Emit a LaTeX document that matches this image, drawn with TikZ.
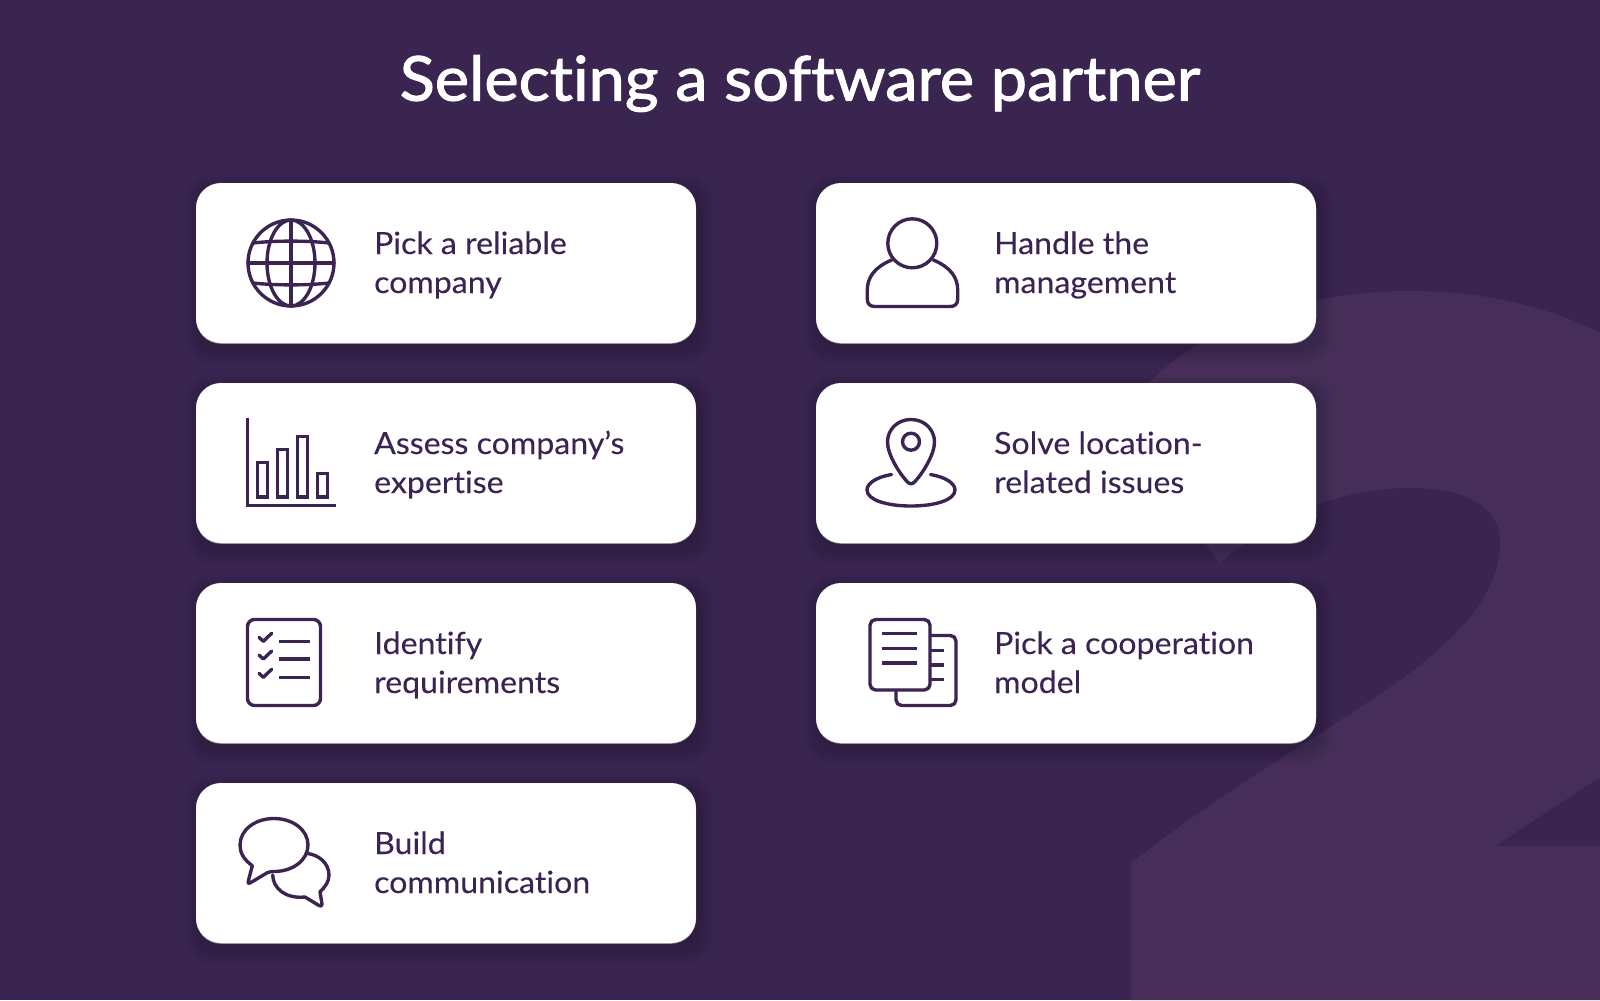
\documentclass[tikz,border=0pt]{standalone}
\usepackage{fontspec}
\setmainfont{Lato}[Ligatures={NoCommon},FakeStretch=1.05,FakeBold=0.1]
\newfontfamily\titlefont{Lato}[Ligatures={NoCommon},FakeStretch=1.05,FakeBold=1.6]
\definecolor{bgp}{HTML}{3A2450}
\definecolor{bgl}{HTML}{462E58}
\definecolor{ink}{HTML}{3B2352}
\newcommand{\toprule}{\rule{0pt}{1em}}
\newcommand{\botrule}{\rule[-.3em]{0pt}{.3em}}
\tikzset{
  cardbox/.style={rectangle,rounded corners=35.5pt,minimum width=25cm,minimum height=8cm,fill=white,draw=none,inner sep=0pt},
  cardlabel/.style={anchor=west,align=left,inner sep=0pt,text=ink,font=\fontsize{43.5}{55.5}\selectfont},
  icon/.style={draw=ink,line width=4.8pt,line cap=round,line join=round,fill=none},
  titletext/.style={text=white,inner sep=0pt,font=\titlefont\fontsize{88}{100}\selectfont}
}
\newcommand{\makecard}[5]{% name, x, y (top left), line1, line2
  \foreach \s in {14,12,10,8,6,4,2}{
    \fill[black,fill opacity=.018,rounded corners=35.5pt] (#2-\s+3,#3+6-\s) rectangle (#2+500+\s+3,#3+166+\s);
  }
  \fill[black!45,rounded corners=35.5pt] (#2,#3+.8) rectangle (#2+500,#3+160.8);
  \node[cardbox] (#1) at (#2+250,#3+80) {};
  \node[cardlabel] (#1t) at (#2+178,#3+79.8) {\toprule #4\\#5\botrule};
}
\begin{document}
\begin{tikzpicture}[x=0.05cm,y=-0.05cm]
\useasboundingbox (0,0) rectangle (1600,1000);
\fill[bgp] (0,0) rectangle (1600,1000);
% big faint numeral
\fill[bgl] (1131,1000) -- (1131,863)
  .. controls (1230,785) and (1340,725) .. (1414,670)
  .. controls (1465,630) and (1500,590) .. (1500,543)
  .. controls (1500,505) and (1465,488) .. (1410,488)
  .. controls (1335,488) and (1270,520) .. (1220,563)
  -- (1115,425)
  .. controls (1170,335) and (1290,291) .. (1410,291)
  .. controls (1480,291) and (1545,305) .. (1600,333)
  -- (1600,777) -- (1495,846) -- (1600,846) -- (1600,1000) -- cycle;
\node[titletext] (title) at (800,83.5) {Selecting a software partner};
\makecard{c1}{196}{183}{Pick a reliable}{company}
\makecard{c2}{196}{383}{Assess company’s}{expertise}
\makecard{c3}{196}{583}{Identify}{requirements}
\makecard{c4}{196}{783}{Build}{communication}
\makecard{c5}{816}{183}{Handle the}{management}
\makecard{c6}{816}{383}{Solve location-}{related issues}
\makecard{c7}{816}{583}{Pick a cooperation}{model}
% globe
\draw[icon] (291,263) circle [radius=43];
\draw[icon] (291,263) circle [x radius=24,y radius=43];
\draw[icon] (291,220) -- (291,306);
\draw[icon] (248,263) -- (334,263);
\draw[icon] (253,243) .. controls (275,240.5) and (307,240.5) .. (329,243);
\draw[icon] (253,283) .. controls (275,285.5) and (307,285.5) .. (329,283);
% chart
\draw[icon,line cap=butt,line join=miter] (247.5,418) -- (247.5,505.2) -- (335.7,505.2);
\draw[icon,line cap=butt,line join=miter] (257.5,462.5) rectangle (267.5,497);
\draw[icon,line cap=butt,line join=miter] (277.3,449.5) rectangle (287.3,497);
\draw[icon,line cap=butt,line join=miter] (297.5,436.8) rectangle (307.5,497);
\draw[icon,line cap=butt,line join=miter] (317.7,473.5) rectangle (327.5,497);
% checklist
\draw[icon,rounded corners=10pt] (247.5,619.5) rectangle (320.5,705.5);
\foreach \d in {0,17.7,36}{
  \draw[icon] (259,637.3+\d) -- (263.3,641.3+\d) -- (271.7,633.3+\d);
  \draw[icon,line cap=butt] (279,641.3+\d) -- (310,641.3+\d);
}
% chat
\draw[icon] (252.3,865.7) .. controls (243,859) and (240,852) .. (240,845)
  .. controls (240,830) and (255,818.5) .. (274,818.5)
  .. controls (293,818.5) and (308,830) .. (308,845)
  .. controls (308,860) and (293,871.5) .. (274,871.5)
  .. controls (272,871.5) and (270,871.5) .. (267.3,872.7)
  -- (250,883) .. controls (248,884) and (248,883) .. (248.3,881) -- cycle;
\draw[icon] (306.7,853.3) .. controls (320,855) and (329,864) .. (329,875)
  .. controls (329,882) and (325,887) .. (320,891.7)
  -- (322,904) .. controls (322,906.5) and (321,906.5) .. (319,905.5)
  -- (305,897) .. controls (285,899) and (273,888) .. (272.7,875);
% person
\draw[icon] (912.3,243.3) circle [radius=24.5];
\draw[icon] (891.7,260) .. controls (875,267) and (867.3,277) .. (867.3,290)
  -- (867.3,299) .. controls (867.3,304) and (870,306.5) .. (875,306.5)
  -- (950,306.5) .. controls (955,306.5) and (957.7,304) .. (957.7,299)
  -- (957.7,290) .. controls (957.7,277) and (950,267) .. (933.3,260);
% pin
\draw[icon] (911,419.5) .. controls (925,419.5) and (934.5,430) .. (934.5,442)
  .. controls (934.5,455) and (922,474) .. (915,481.5)
  .. controls (912.5,484.5) and (909.5,484.5) .. (907,481.5)
  .. controls (900,474) and (887.5,455) .. (887.5,442)
  .. controls (887.5,430) and (897,419.5) .. (911,419.5) -- cycle;
\draw[icon] (911,441.7) circle [radius=8.5];
\draw[icon] (891.5,474.5) .. controls (877,477) and (867,483) .. (867,490)
  .. controls (867,500) and (887,506) .. (911,506)
  .. controls (935,506) and (955,500) .. (955,490)
  .. controls (955,483) and (945,477) .. (930.5,474.5);
% documents
\draw[icon,rounded corners=8pt] (870,619.5) rectangle (930,690);
\draw[icon,line cap=butt,rounded corners=8pt] (931,635.5) -- (956,635.5) -- (956,705.5) -- (896,705.5) -- (896,691);
\foreach \d in {0,14.6,29.3}{
  \draw[icon,line cap=butt] (881.5,633.7+\d) -- (917.3,633.7+\d);
  \draw[icon,line cap=butt] (931,650.3+\d) -- (944,650.3+\d);
}
\end{tikzpicture}
\end{document}
